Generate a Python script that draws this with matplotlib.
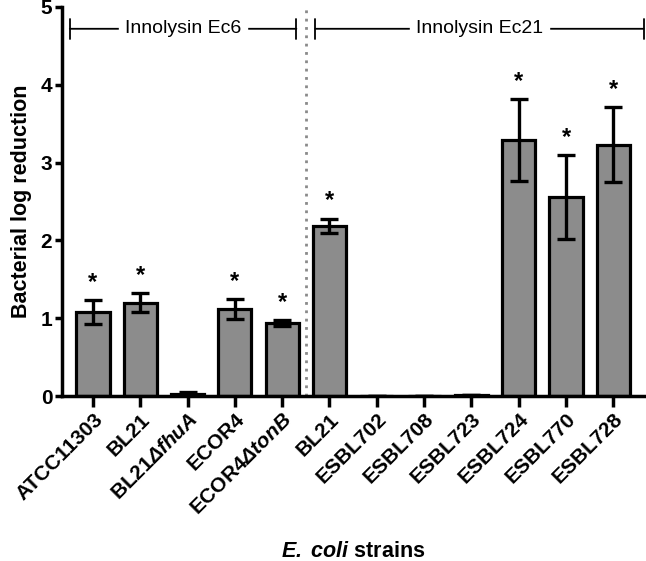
import matplotlib.pyplot as plt
import numpy as np

plt.rcParams['font.family'] = ['Liberation Sans', 'DejaVu Sans']
plt.rcParams['mathtext.fontset'] = 'custom'
plt.rcParams['mathtext.rm'] = 'Liberation Sans'
plt.rcParams['mathtext.bf'] = 'Liberation Sans:bold'
plt.rcParams['mathtext.it'] = 'Liberation Sans:italic'
plt.rcParams['mathtext.bfit'] = 'Liberation Sans:bold:italic'

strains = ["ATCC11303", "BL21", r"BL21$\mathbfit{Δfhu A}$", "ECOR4",
           r"ECOR4$\mathbfit{Δton B}$", "BL21", "ESBL702", "ESBL708",
           "ESBL723", "ESBL724", "ESBL770", "ESBL728"]
valores = [1.08, 1.20, 0.03, 1.12, 0.94, 2.19, 0.0, 0.0, 0.01, 3.29, 2.56, 3.23]
erros = [0.15, 0.12, 0.02, 0.13, 0.04, 0.09, 0.0, 0.0, 0.0, 0.53, 0.54, 0.48]
signif = [True, True, False, True, True, True, False, False, False, True, True, True]

fig = plt.figure(figsize=(6.46, 5.61), dpi=100)
ax = fig.add_axes([62/646, 165/561, 583/646, 389/561])

x = np.arange(len(strains))
ax.bar(x, valores, width=0.7, color='#8c8c8c', edgecolor='black', linewidth=2.3, zorder=2)
ax.errorbar(x, valores, yerr=erros, fmt='none', ecolor='black', elinewidth=2.4,
            capsize=6.5, capthick=2.4, zorder=3)

# asteriscos de significancia
for i in range(len(x)):
    if signif[i]:
        ax.text(x[i], valores[i] + erros[i] + 0.08, "*", ha='center', va='bottom',
                fontsize=17, fontweight='bold')

# linha divisoria pontilhada
ax.axvline(4.5, color='#8a8a8a', linestyle=(0, (1, 2)), linewidth=2, zorder=1)

# colchetes dos grupos
def colchete(x0, x1, texto, y=4.72):
    ax.annotate('', xy=(x0, y), xytext=(x1, y),
                arrowprops=dict(arrowstyle='|-|', lw=1.3, color='black',
                                mutation_scale=7, shrinkA=0, shrinkB=0))
    ax.text((x0 + x1) / 2, y, texto, ha='center', va='center', fontsize=14,
            backgroundcolor='white', zorder=4)

colchete(-0.49, 4.3, "Innolysin Ec6")
colchete(4.7, 11.64, "Innolysin Ec21")

ax.set_xlim(-0.655, 11.67)
ax.set_ylim(0, 5)
ax.set_yticks([0, 1, 2, 3, 4, 5])
ax.set_xticks(x)
ax.set_xticklabels(strains, rotation=45, ha='right', rotation_mode='anchor',
                   fontsize=15, fontweight='bold')
for lbl in ax.get_yticklabels():
    lbl.set_fontweight('bold')
    lbl.set_fontsize(15)

ax.spines['top'].set_visible(False)
ax.spines['right'].set_visible(False)
ax.spines['left'].set_linewidth(2.5)
ax.spines['bottom'].set_linewidth(2.5)
ax.tick_params(axis='y', width=2.5, length=5, pad=2)
ax.tick_params(axis='x', width=2.5, length=8, pad=2)

ax.set_ylabel("Bacterial log reduction", fontsize=15.5, fontweight='bold', labelpad=6)
ax.set_xlabel(r"$\mathbfit{E.\ coli}$ strains", fontsize=15.5, fontweight='bold', labelpad=16)

plt.savefig("out.png", dpi=100)
